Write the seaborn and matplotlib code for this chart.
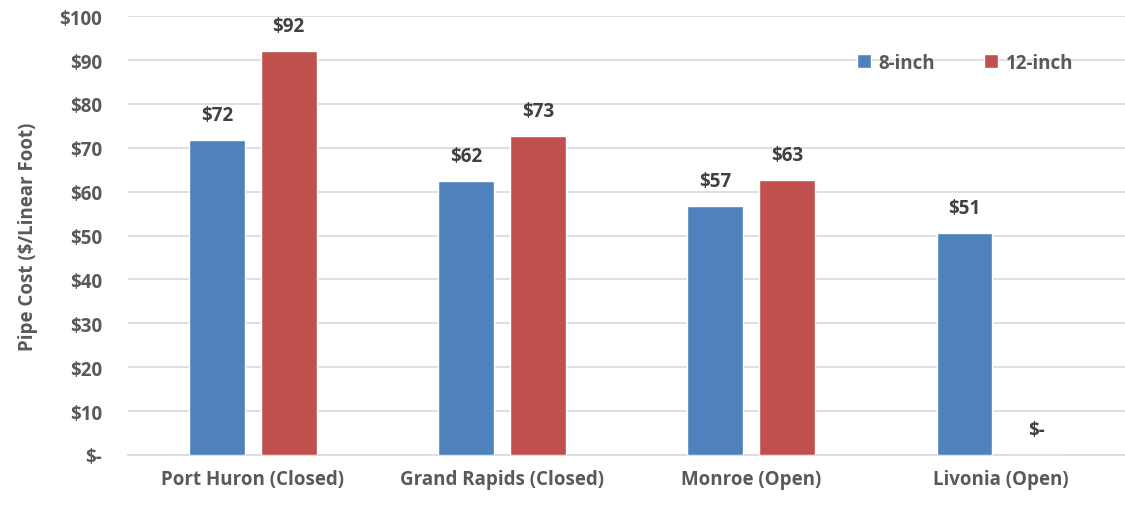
import numpy as np
import pandas as pd
import matplotlib
matplotlib.use('Agg')
import matplotlib.pyplot as plt
import seaborn as sns

# Data
sites = ['Port Huron (Closed)', 'Grand Rapids (Closed)', 'Monroe (Open)', 'Livonia (Open)']
cost_8in = [71.8, 62.4, 56.8, 50.6]
cost_12in = [92.1, 72.8, 62.7, 0.0]
labels_8in = ['$72', '$62', '$57', '$51']
labels_12in = ['$92', '$73', '$63', '$-']
yticks = [0, 10, 20, 30, 40, 50, 60, 70, 80, 90, 100]
yticklabels = ['$-', '$10', '$20', '$30', '$40', '$50', '$60', '$70', '$80', '$90', '$100']

df = pd.DataFrame({
    'site': sites * 2,
    'size': ['8-inch'] * 4 + ['12-inch'] * 4,
    'cost': cost_8in + cost_12in,
})

sns.set_style('white')
plt.rcParams['font.family'] = ['Open Sans', 'DejaVu Sans']
txt = '#595959'
fs = 13.5

fig, ax = plt.subplots(figsize=(11.25, 5.06), dpi=100)
fig.subplots_adjust(left=0.114, right=1.0, top=0.966, bottom=0.099)

sns.barplot(data=df, x='site', y='cost', hue='size',
            palette={'8-inch': '#4F81BD', '12-inch': '#C0504D'},
            width=0.576, gap=0.222, ax=ax, zorder=3, saturation=1)

# bar labels
for cont, labs in zip(ax.containers, [labels_8in, labels_12in]):
    for bar, lab in zip(cont, labs):
        x = bar.get_x() + bar.get_width() / 2
        h = bar.get_height()
        ax.annotate(lab, (x, h), xytext=(0, 18), textcoords='offset points',
                    ha='center', va='center', fontsize=fs, fontweight='bold',
                    color='#404040')

ax.set_ylim(0, 100)
ax.set_yticks(yticks)
ax.set_yticklabels(yticklabels)
ax.yaxis.grid(True, color='#d9d9d9', linewidth=1.2, zorder=0)
ax.set_axisbelow(True)
for s in ['top', 'right', 'left']:
    ax.spines[s].set_visible(False)
ax.spines['bottom'].set_color('#d9d9d9')
ax.spines['bottom'].set_linewidth(1.2)
ax.tick_params(axis='x', length=0, labelsize=fs, labelcolor=txt, pad=10)
ax.tick_params(axis='y', length=0, labelsize=fs, labelcolor=txt, pad=19)
for t in ax.get_xticklabels() + ax.get_yticklabels():
    t.set_fontweight('bold')
ax.set_xlabel('')
ax.set_ylabel('Pipe Cost ($/Linear Foot)', fontsize=fs, fontweight='bold', color=txt, labelpad=15)

leg = ax.legend(loc='upper right', bbox_to_anchor=(0.965, 0.955), ncol=2, frameon=False,
                handlelength=0.75, handleheight=0.75, columnspacing=2.6, handletextpad=0.4,
                prop={'size': fs, 'weight': 'bold'})
for t in leg.get_texts():
    t.set_color(txt)

fig.savefig('out.png', dpi=100)
